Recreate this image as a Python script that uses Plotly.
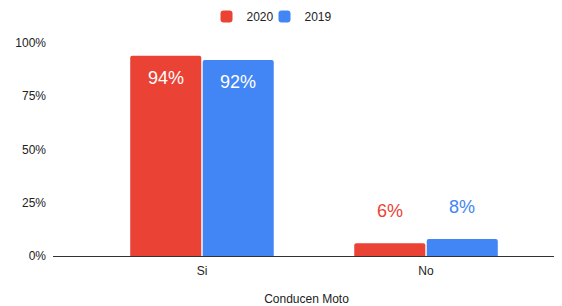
import plotly.graph_objects as go

categories = ["Si", "No"]
series_names = ["2020", "2019"]
values_2020 = [94, 6]
values_2019 = [92, 8]
y_ticks = [0, 25, 50, 75, 100]
y_tick_labels = ["0%", "25%", "50%", "75%", "100%"]
x_title = "Conducen Moto"

colors = ["#ea4335", "#4285f4"]
series = [values_2020, values_2019]
offsets = [-0.162, 0.162]
legend_ids = ["legend", "legend2"]

FIG_W, FIG_H = 554, 298
x_pos = list(range(len(categories)))

fig = go.Figure()
for name, vals, col, lg in zip(series_names, series, colors, legend_ids):
    fig.add_trace(go.Bar(
        x=x_pos, y=vals, name=name, legend=lg, showlegend=True,
        marker=dict(color=col, cornerradius=2, line=dict(width=0)),
        hoverinfo="skip",
    ))

annotations = []
for vals, col, off in zip(series, colors, offsets):
    for xi, v in zip(x_pos, vals):
        inside = v > 50
        annotations.append(dict(
            x=xi + off, y=v, xref="x", yref="y",
            text=f"{v}%", showarrow=False,
            yanchor="top" if inside else "bottom",
            yshift=-10 if inside else 20,
            font=dict(size=18, color="white" if inside else col,
                      family="Liberation Sans, Arial, sans-serif"),
        ))

legend_common = dict(orientation="h", xref="container", yref="container",
                     xanchor="left", yanchor="middle", y=1 - 8.5 / FIG_H,
                     font=dict(size=12, color="#222"), itemwidth=30,
                     bgcolor="rgba(0,0,0,0)", visible=True)

fig.update_layout(
    width=FIG_W, height=FIG_H,
    showlegend=True,
    margin=dict(l=45, r=2, t=35, b=50),
    paper_bgcolor="white", plot_bgcolor="white",
    barmode="group", bargap=0.353, bargroupgap=0.02,
    font=dict(family="Liberation Sans, Arial, sans-serif", size=12, color="#444"),
    legend=dict(x=198.5 / FIG_W, **legend_common),
    legend2=dict(x=256.5 / FIG_W, **legend_common),
    xaxis=dict(
        tickmode="array", tickvals=x_pos, ticktext=categories,
        range=[-0.665, 1.598], showgrid=False, zeroline=False,
        showline=True, linecolor="#333", linewidth=1, ticks="",
        title=dict(text=x_title, font=dict(size=12, color="#222"), standoff=18),
        tickfont=dict(size=12, color="#222"), ticklabelstandoff=4,
    ),
    yaxis=dict(
        range=[0, 100], tickvals=y_ticks, ticktext=y_tick_labels,
        showgrid=False, zeroline=False, showline=False, ticks="",
        tickfont=dict(size=12, color="#222"), ticklabelstandoff=6,
    ),
    annotations=annotations,
)

fig.write_html("out.html")
